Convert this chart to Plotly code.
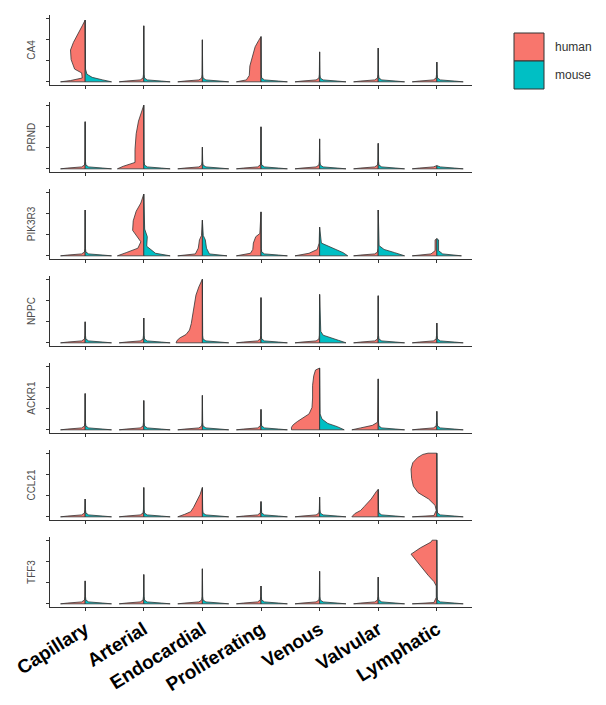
import plotly.graph_objects as go

CELL_TYPES = ["Capillary", "Arterial", "Endocardial", "Proliferating", "Venous", "Valvular", "Lymphatic"]
GENES = ["CA4", "PRND", "PIK3R3", "NPPC", "ACKR1", "CCL21", "TFF3"]
SPECIES = ["human", "mouse"]
SPECIES_COLORS = {"human": "#F8766D", "mouse": "#00BFC4"}

# maximum (scaled) expression reached in each gene x cell type (violin tip)
MAX_EXPR = {
    "CA4":    [0.97, 0.88, 0.66, 0.71, 0.47, 0.53, 0.31],
    "PRND":   [0.74, 1.00, 0.34, 0.66, 0.47, 0.40, 0.05],
    "PIK3R3": [0.72, 0.97, 0.56, 0.69, 0.45, 0.72, 0.27],
    "NPPC":   [0.33, 0.39, 1.00, 0.71, 0.76, 0.74, 0.31],
    "ACKR1":  [0.57, 0.46, 0.54, 0.32, 0.97, 0.80, 0.29],
    "CCL21":  [0.28, 0.46, 0.46, 0.24, 0.31, 0.43, 1.00],
    "TFF3":   [0.36, 0.46, 0.55, 0.28, 0.51, 0.42, 1.00],
}

# density profiles (expression level, half density width)
DEFAULT_DENSITY = {
    "human": [(0.0, 0.42), (0.012, 0.3), (0.03, 0.06), (0.06, 0.012), (0.12, 0.005)],
    "mouse": [(0.0, 0.45), (0.012, 0.3), (0.03, 0.06), (0.06, 0.012), (0.12, 0.005)],
}
HUMAN_DENSITY = {
    ("CA4", "Capillary"): [(0, 0.42), (0.02, 0.25), (0.06, 0.05), (0.14, 0.06), (0.2, 0.18), (0.35, 0.24),
                           (0.5, 0.25), (0.62, 0.2), (0.75, 0.12), (0.88, 0.05)],
    ("CA4", "Proliferating"): [(0, 0.42), (0.03, 0.25), (0.1, 0.2), (0.25, 0.19), (0.4, 0.15), (0.55, 0.1), (0.65, 0.04)],
    ("PRND", "Arterial"): [(0, 0.45), (0.04, 0.35), (0.1, 0.15), (0.3, 0.15), (0.55, 0.13), (0.75, 0.09), (0.9, 0.04)],
    ("PIK3R3", "Arterial"): [(0, 0.45), (0.05, 0.3), (0.12, 0.1), (0.22, 0.05), (0.28, 0.1), (0.4, 0.19),
                             (0.55, 0.18), (0.7, 0.13), (0.83, 0.05)],
    ("PIK3R3", "Endocardial"): [(0, 0.42), (0.03, 0.12), (0.12, 0.07), (0.25, 0.05), (0.32, 0.015)],
    ("PIK3R3", "Proliferating"): [(0, 0.42), (0.04, 0.18), (0.1, 0.14), (0.2, 0.13), (0.3, 0.09), (0.35, 0.02)],
    ("PIK3R3", "Venous"): [(0, 0.42), (0.04, 0.18), (0.1, 0.04), (0.2, 0.008)],
    ("PIK3R3", "Lymphatic"): [(0, 0.42), (0.03, 0.1), (0.08, 0.03), (0.25, 0.03)],
    ("NPPC", "Endocardial"): [(0, 0.45), (0.04, 0.43), (0.08, 0.38), (0.13, 0.28), (0.2, 0.22), (0.3, 0.19),
                              (0.45, 0.16), (0.6, 0.14), (0.75, 0.11), (0.88, 0.06)],
    ("ACKR1", "Venous"): [(0, 0.48), (0.04, 0.48), (0.08, 0.45), (0.13, 0.38), (0.18, 0.3), (0.25, 0.18),
                          (0.35, 0.13), (0.5, 0.12), (0.7, 0.12), (0.85, 0.1), (0.94, 0.07)],
    ("ACKR1", "Valvular"): [(0, 0.45), (0.03, 0.3), (0.07, 0.1), (0.12, 0.01)],
    ("CCL21", "Endocardial"): [(0, 0.42), (0.04, 0.3), (0.08, 0.2), (0.15, 0.15), (0.25, 0.09), (0.35, 0.04)],
    ("CCL21", "Valvular"): [(0, 0.45), (0.05, 0.4), (0.1, 0.3), (0.16, 0.24), (0.28, 0.12), (0.4, 0.03)],
    ("CCL21", "Lymphatic"): [(0, 0.42), (0.02, 0.05), (0.1, 0.01), (0.18, 0.03), (0.28, 0.14), (0.38, 0.32),
                             (0.48, 0.4), (0.6, 0.43), (0.75, 0.44), (0.85, 0.41), (0.93, 0.33), (0.98, 0.24), (1.0, 0.15)],
    ("TFF3", "Lymphatic"): [(0, 0.42), (0.02, 0.05), (0.1, 0.01), (0.28, 0.01), (0.35, 0.05), (0.45, 0.15),
                            (0.58, 0.26), (0.68, 0.36), (0.78, 0.44), (0.88, 0.28), (0.97, 0.1), (1.0, 0.08)],
}
MOUSE_DENSITY = {
    ("CA4", "Capillary"): [(0, 0.45), (0.03, 0.3), (0.07, 0.12), (0.12, 0.03), (0.2, 0.006)],
    ("PIK3R3", "Arterial"): [(0, 0.45), (0.04, 0.2), (0.15, 0.05), (0.3, 0.06), (0.42, 0.015)],
    ("PIK3R3", "Endocardial"): [(0, 0.42), (0.03, 0.12), (0.12, 0.07), (0.25, 0.05), (0.32, 0.015)],
    ("PIK3R3", "Venous"): [(0, 0.48), (0.05, 0.4), (0.1, 0.28), (0.15, 0.14), (0.2, 0.03)],
    ("PIK3R3", "Valvular"): [(0, 0.45), (0.05, 0.28), (0.1, 0.1), (0.16, 0.015)],
    ("PIK3R3", "Lymphatic"): [(0, 0.42), (0.03, 0.1), (0.08, 0.03), (0.25, 0.03)],
    ("NPPC", "Venous"): [(0, 0.45), (0.04, 0.32), (0.08, 0.18), (0.12, 0.06), (0.18, 0.02)],
    ("ACKR1", "Venous"): [(0, 0.42), (0.05, 0.3), (0.1, 0.14), (0.17, 0.04), (0.25, 0.008)],
}
DENSITY = {"human": HUMAN_DENSITY, "mouse": MOUSE_DENSITY}

# ---------------------------------------------------------------- figure
fig = go.Figure()
n = len(GENES)
panel_h, gap = 70, 17
total = n * panel_h + (n - 1) * gap
FONT = "Liberation Sans, Arial"

for gi, gene in enumerate(GENES):
    ax = "" if gi == 0 else str(gi + 1)
    for ci, cell in enumerate(CELL_TYPES):
        top = MAX_EXPR[gene][ci]
        for sp in SPECIES:
            side = -1 if sp == "human" else 1
            prof = DENSITY[sp].get((gene, cell), DEFAULT_DENSITY[sp])
            xs = [ci]
            ys = [0.0]
            for lvl, w in prof:
                if lvl <= top:
                    xs.append(ci + side * w)
                    ys.append(lvl)
            xs += [ci, ci]
            ys += [top, 0.0]
            fig.add_trace(go.Scatter(
                x=xs, y=ys, mode="lines", fill="toself",
                fillcolor=SPECIES_COLORS[sp],
                line=dict(color="#333333", width=0.8),
                xaxis="x" + ax, yaxis="y" + ax,
                showlegend=False, hoverinfo="skip"))

    top_px = gi * (panel_h + gap)
    dom = [1 - (top_px + panel_h) / total, 1 - top_px / total]
    last = gi == n - 1
    fig.layout["xaxis" + ax] = dict(
        domain=[0, 1], range=[-0.6, 6.6], anchor="y" + ax,
        tickmode="array", tickvals=list(range(len(CELL_TYPES))),
        ticktext=CELL_TYPES if last else [""] * len(CELL_TYPES),
        showticklabels=last, tickangle=-32,
        tickfont=dict(family=FONT, size=19, color="black", weight="bold"),
        ticks="outside", ticklen=3, tickcolor="#333333",
        showline=True, linecolor="#333333", linewidth=1,
        showgrid=False, zeroline=False, fixedrange=True)
    fig.layout["yaxis" + ax] = dict(
        domain=dom, range=[-0.05, 1.05], anchor="x" + ax,
        tickmode="array", tickvals=[0, 0.33, 0.66, 1.0], showticklabels=False,
        ticks="outside", ticklen=3, tickcolor="#333333",
        showline=True, linecolor="#333333", linewidth=1,
        showgrid=False, zeroline=False,
        title=dict(text=gene, standoff=8,
                   font=dict(family=FONT, size=10, color="#4d4d4d")))

# legend keys (page pixel positions; the page body adds an 8 px offset)
OFF = 8
ML, MT = 50 - OFF, 15 - OFF
plot_w = 606 - 50 - 134


def px_x(p):
    return (p - OFF - ML) / plot_w


def px_y(p):
    return 1 - (p - OFF - MT) / total


for i, sp in enumerate(SPECIES):
    y0 = 33 + i * 28
    fig.add_shape(type="rect", xref="paper", yref="paper",
                  x0=px_x(514), x1=px_x(544), y0=px_y(y0 + 28), y1=px_y(y0),
                  fillcolor=SPECIES_COLORS[sp], line=dict(color="#333333", width=1))
    fig.add_annotation(xref="paper", yref="paper", x=px_x(553), y=px_y(y0 + 14),
                       text=sp, showarrow=False, xanchor="left", yanchor="middle",
                       font=dict(family=FONT, size=12, color="#333333"))

fig.update_layout(
    width=606, height=705,
    margin=dict(l=ML, r=606 - ML - plot_w, t=MT, b=705 - MT - total, autoexpand=False),
    plot_bgcolor="white", paper_bgcolor="white",
    showlegend=False,
)

fig.write_html("out.html")
